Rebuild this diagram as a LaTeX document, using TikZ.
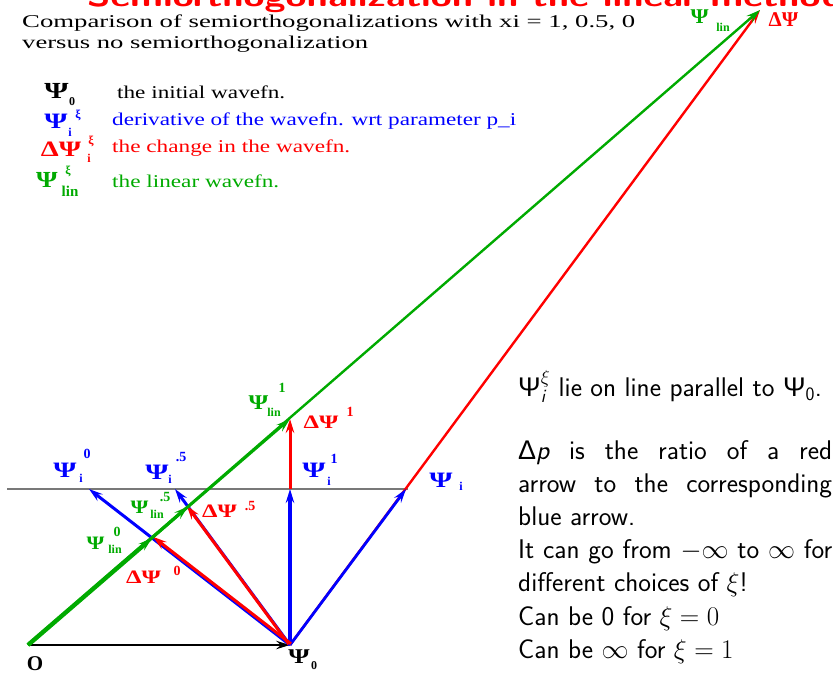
\RequirePackage{fix-cm}
\documentclass[tikz,border=0pt]{standalone}
\usepackage{amsmath}
\usepackage{fontspec}
\usepackage{graphicx}
\usetikzlibrary{arrows.meta}
\newfontfamily\tms{Liberation Serif}
\newfontfamily\gsans{Liberation Sans}
\definecolor{dgreen}{RGB}{0,170,0}
\definecolor{lgray}{RGB}{120,120,120}
\newcommand\bigpsi[2][1.35]{\scalebox{#1}[1]{\fontsize{#2}{#2}\selectfont\tms\bfseries Ψ}}
\newcommand\bigdpsi[2][1.2]{\scalebox{#1}[1]{\fontsize{#2}{#2}\selectfont\tms\bfseries ΔΨ}}
\newcommand\sPsi{\text{\gsans Ψ}}
\begin{document}
\begin{tikzpicture}[x=1pt,y=-1pt,
  every node/.style={inner sep=0pt},
  vec/.style={-{Stealth[length=14pt,width=8.5pt,inset=5pt]}, line width=#1},
  vec/.default=2.6pt,
  lbl/.style={anchor=center},
  sm/.style={anchor=center, font=\fontsize{12}{12}\selectfont\tms\bfseries},
  smn/.style={anchor=center, font=\fontsize{14}{14}\selectfont\tms\bfseries},
  smx/.style={anchor=center, font=\fontsize{12}{12}\selectfont\tms\bfseries},
  leg/.style={anchor=base west},
]
\useasboundingbox (0,0) rectangle (833,673);
\clip (0,0) rectangle (833,673);

% ---------- points
\coordinate (O) at (28,645);
\coordinate (P0) at (290,645);
\coordinate (Top) at (760,10);
\coordinate (Pi) at (406,489);
\coordinate (Pi1) at (290,489);
\coordinate (Pi5) at (175,489);
\coordinate (Pi0) at (89,489);
\coordinate (L1) at (290,419);
\coordinate (L5) at (188,506.5);
\coordinate (L0) at (152,538);
\coordinate (HL) at (7,489);
\coordinate (HR) at (408,489);

% ---------- title and header
\node[anchor=base west, text=red] (title) at (87,6)
  {\resizebox{756pt}{\height}{\fontsize{30}{30}\selectfont\sffamily\bfseries Semiorthogonalization in the linear method}};
\node[leg] (head1) at (22,27)
  {\resizebox{613pt}{\height}{\fontsize{18}{18}\selectfont\tms Comparison of semiorthogonalizations with xi = 1, 0.5, 0}};
\node[leg] (head2) at (22,48)
  {\resizebox{346pt}{\height}{\fontsize{18}{18}\selectfont\tms versus no semiorthogonalization}};

% ---------- legend
\node[lbl] (lg0) at (56.5,90.5) {\bigpsi{23}};
\node[sm] (lg0s) at (72,102) {0};
\node[leg] (lg0t) at (117,98) {\resizebox{168pt}{\height}{\fontsize{18}{18}\selectfont\tms the initial wavefn.}};

\node[lbl, text=blue] (lg1) at (56,121) {\bigpsi{22}};
\node[smx, text=blue] (lg1p) at (78,115) {ξ};
\node[sm, text=blue] (lg1s) at (70,132) {i};
\node[leg, text=blue] (lg1t) at (112,125) {\resizebox{404pt}{\height}{\fontsize{18}{18}\selectfont\tms derivative of the wavefn. wrt parameter p\_i}};

\node[lbl, text=red] (lg2) at (61,149.5) {\bigdpsi[1.3]{22}};
\node[smx, text=red] (lg2p) at (91,141) {ξ};
\node[sm, text=red] (lg2s) at (89,158) {i};
\node[leg, text=red] (lg2t) at (112,152) {\resizebox{238pt}{\height}{\fontsize{18}{18}\selectfont\tms the change in the wavefn.}};

\node[lbl, text=dgreen] (lg3) at (47,179.5) {\bigpsi[1.2]{23}};
\node[smx, text=dgreen] (lg3p) at (68,171) {ξ};
\node[anchor=center, text=dgreen, font=\fontsize{15}{15}\selectfont\tms\bfseries] (lg3s) at (70,191) {lin};
\node[leg, text=dgreen] (lg3t) at (112,187) {\resizebox{167pt}{\height}{\fontsize{18}{18}\selectfont\tms the linear wavefn.}};

% ---------- diagram lines
\draw[lgray, line width=1.1pt] (HL) -- (HR);
\draw[vec=1.6pt] (O) -- (P0);

\draw[vec=2.4pt, red] (P0) -- (Top);
\draw[vec=2.8pt, blue] (P0) -- (Pi);

\draw[vec=3pt, blue] (P0) -- (Pi0);
\draw[vec=3pt, blue] (P0) -- (Pi5);
\draw[vec=3.4pt, blue] (P0) -- (Pi1);
\draw[vec=3pt, red] ([shift={(1,-1.2)}]P0) -- ([shift={(1,-1.2)}]L0);
\draw[vec=3pt, red] ([shift={(-1.2,-0.9)}]P0) -- ([shift={(-1.2,-0.9)}]L5);
\draw[vec=3pt, red] (Pi1) -- (L1);

\draw[vec=2.4pt, dgreen] (O) -- (Top);
\draw[vec=2.6pt, dgreen] (O) -- (L1);
\draw[vec=3.2pt, dgreen] (O) -- (L5);
\draw[vec=4.4pt, dgreen] (O) -- (L0);

% ---------- diagram labels
\node[anchor=center, font=\fontsize{21}{21}\selectfont\tms\bfseries] (olab) at (35,664) {O};
\node[lbl] (p0lab) at (299,656.5) {\bigpsi[1.3]{21}};
\node[sm] (p0labs) at (314,666) {0};

\node[lbl, text=blue] (pilab) at (441,480) {\bigpsi{22}};
\node[sm, text=blue] (pilabs) at (461,486) {i};

\node[lbl, text=blue] (pi1lab) at (314,470) {\bigpsi{22}};
\node[smn, text=blue] (pi1labp) at (334,459) {1};
\node[sm, text=blue] (pi1labs) at (329,481) {i};

\node[lbl, text=blue] (pi0lab) at (65,470.5) {\bigpsi{22}};
\node[smn, text=blue] (pi0labp) at (87,454) {0};
\node[sm, text=blue] (pi0labs) at (81,478) {i};

\node[lbl, text=blue] (pi5lab) at (157,472.5) {\bigpsi{22}};
\node[smn, text=blue] (pi5labp) at (181,457) {.5};
\node[sm, text=blue] (pi5labs) at (170,479) {i};

\node[lbl, text=dgreen] (l1lab) at (258.5,402.5) {\bigpsi[1.2]{21}};
\node[smn, text=dgreen] (l1labp) at (282,388) {1};
\node[sm, text=dgreen] (l1labs) at (274,412) {lin};

\node[lbl, text=dgreen] (l5lab) at (139.5,507.5) {\bigpsi[1.2]{19}};
\node[smn, text=dgreen] (l5labp) at (165,497) {.5};
\node[sm, text=dgreen] (l5labs) at (157,514) {lin};

\node[lbl, text=dgreen] (l0lab) at (95.5,543.5) {\bigpsi[1.2]{19}};
\node[smn, text=dgreen] (l0labp) at (117,532) {0};
\node[sm, text=dgreen] (l0labs) at (115,549) {lin};

\node[lbl, text=red] (d1lab) at (321,422.5) {\bigdpsi[1.3]{19}};
\node[smn, text=red] (d1labp) at (350,412) {1};

\node[lbl, text=red] (d5lab) at (219.5,511.5) {\bigdpsi[1.3]{19}};
\node[smn, text=red] (d5labp) at (250,506) {.5};

\node[lbl, text=red] (d0lab) at (143.5,577.5) {\bigdpsi[1.3]{19}};
\node[smn, text=red] (d0labp) at (177,571) {0};

\node[lbl, text=dgreen] (toplin) at (699.5,16.5) {\bigpsi[1.1]{21}};
\node[sm, text=dgreen] (toplins) at (723,27) {lin};
\node[lbl, text=red] (topd) at (783.5,20) {\bigdpsi[1.0]{21}};

% ---------- notes
\node[anchor=base west] (note1) at (518,396)
  {\fontsize{27}{33.2}\selectfont\sffamily $\sPsi_{\text{\itshape i}}^{\xi}$ lie on line parallel to $\sPsi_{\text{0}}$.};
\node[anchor=base west] (note2) at (518,459)
  {\parbox[t]{314pt}{\fontsize{27}{33.2}\selectfont\sffamily
   $\text{\gsans Δ}\text{\itshape p}$ is the ratio of a red\linebreak
   arrow to the corresponding\linebreak
   blue arrow.\\
   It can go from $-\infty$ to $\infty$ for different choices of $\xi$!\\
   Can be 0 for $\xi=0$\\
   Can be $\infty$ for $\xi=1$}};
\end{tikzpicture}
\end{document}
